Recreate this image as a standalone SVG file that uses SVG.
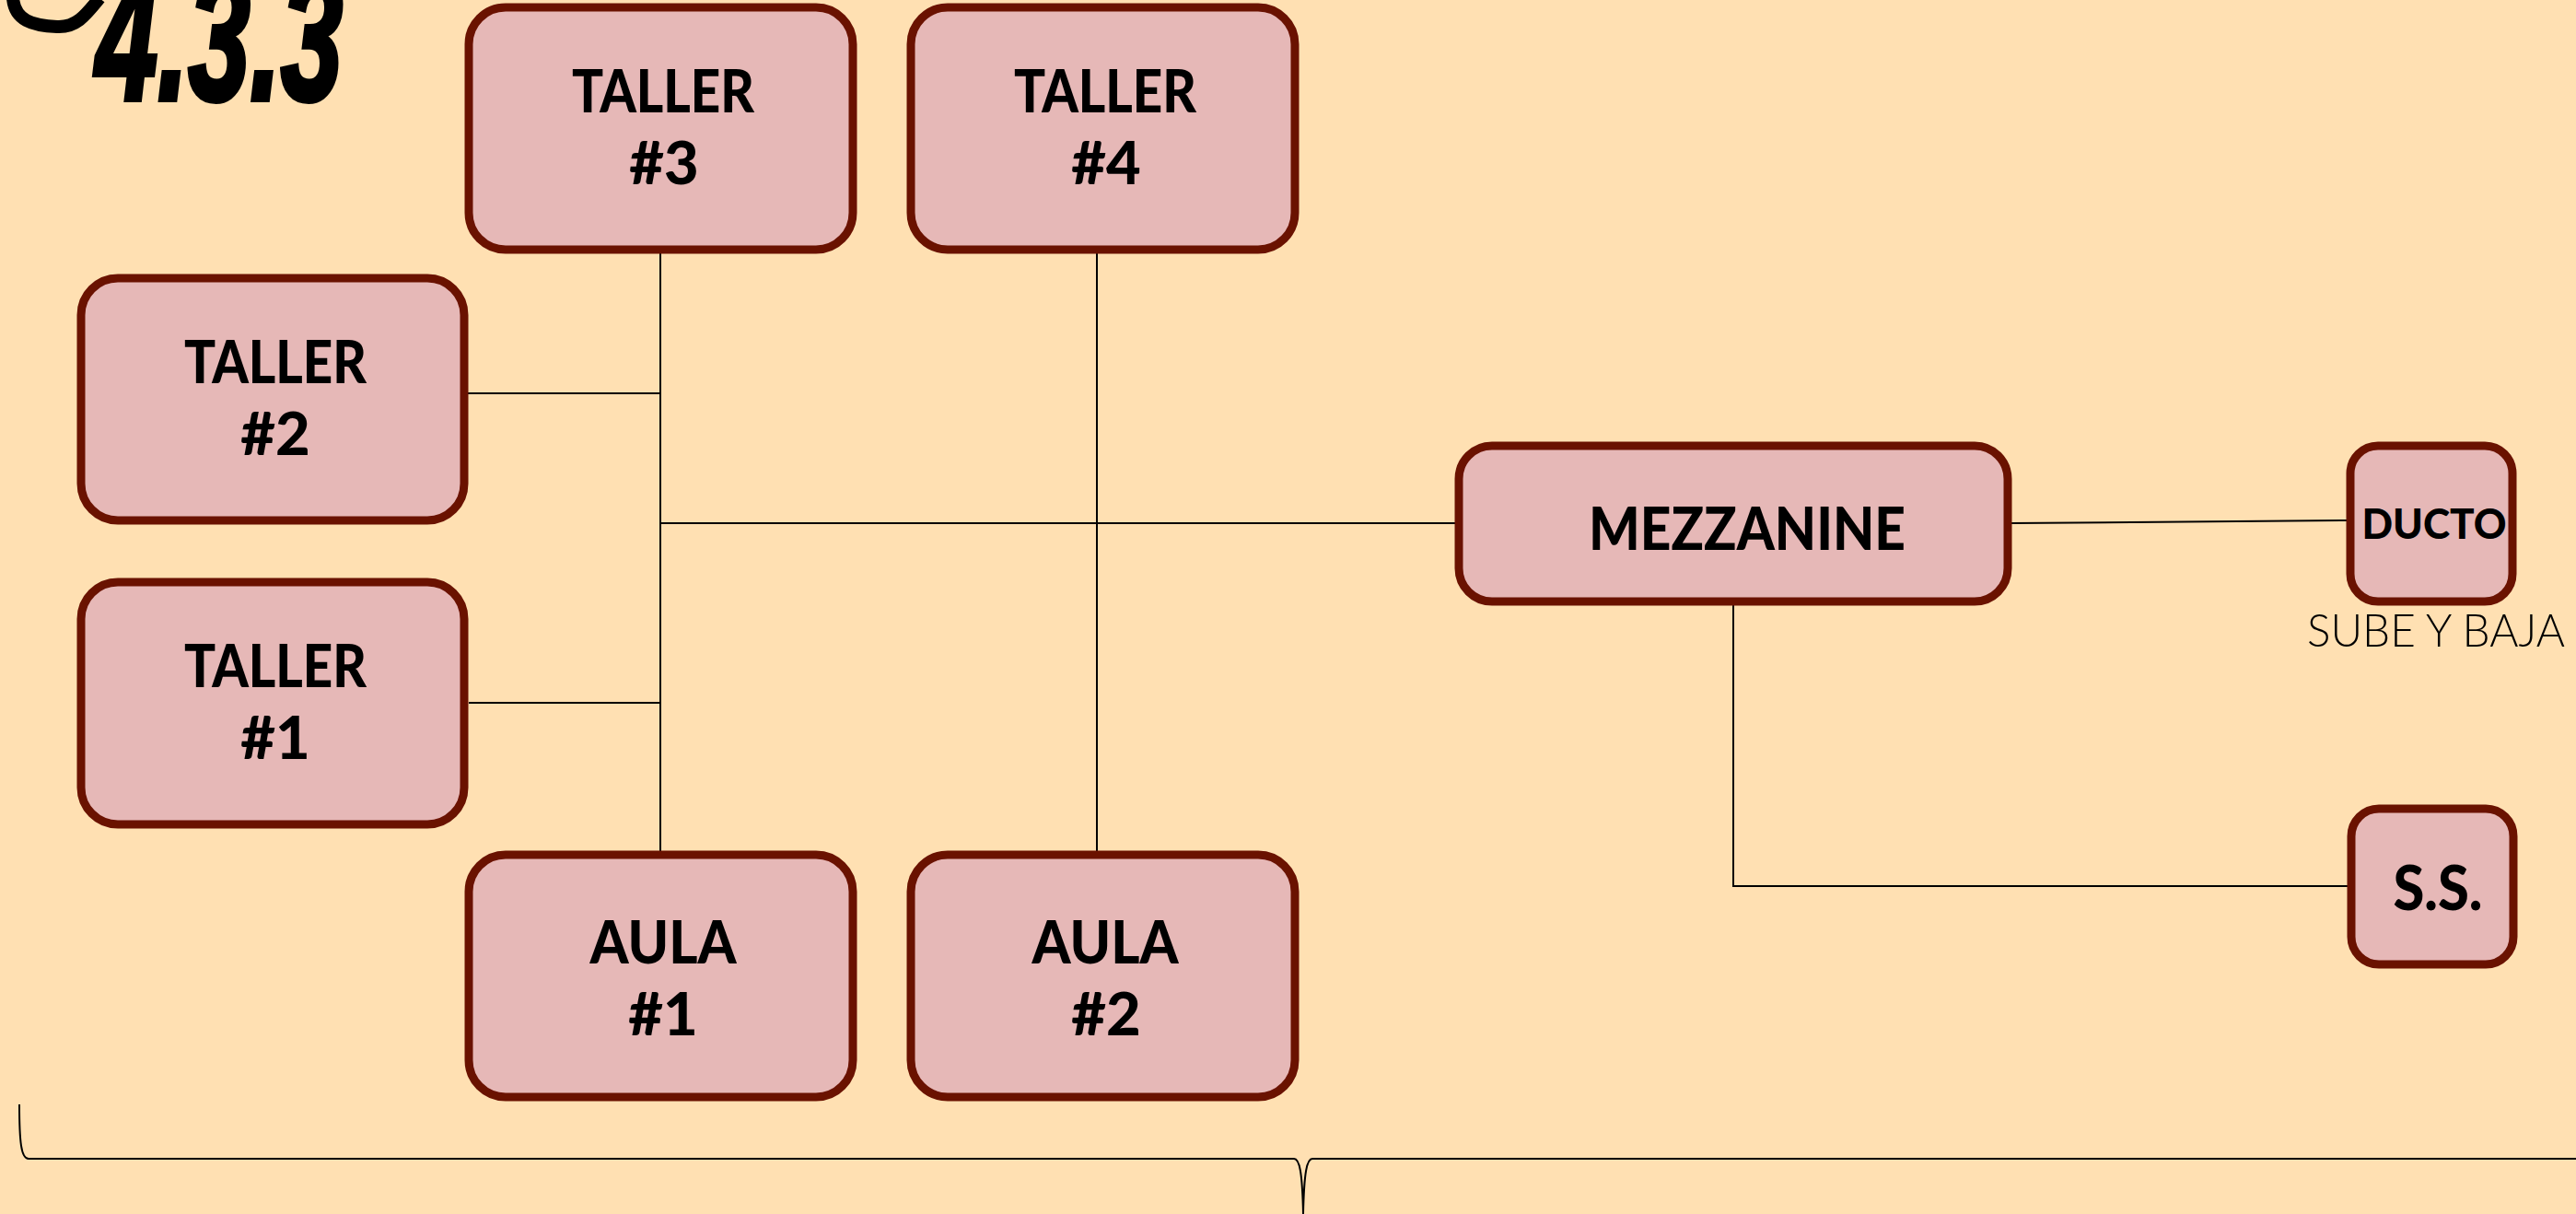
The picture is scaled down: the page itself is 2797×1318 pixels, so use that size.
<svg xmlns="http://www.w3.org/2000/svg" width="2797" height="1318" viewBox="0 0 2797 1318">
<style>
.node rect{fill:#E6B8B7;stroke:#6A1200;stroke-width:9}
.lbl{font-family:Lato,"Liberation Sans",sans-serif;font-weight:900;fill:#000;text-anchor:middle}
.big{font-size:65px}
.con{fill:none;stroke:#000;stroke-width:2}
.note{font-family:Lato,"Liberation Sans",sans-serif;font-weight:300;font-size:49px;fill:#000;text-anchor:middle}
.head{font-family:"Liberation Sans",Arial,sans-serif;font-weight:700;font-style:italic;font-size:195px;fill:#000;stroke:#000;stroke-width:6}
</style>
<rect x="0" y="0" width="2797" height="1318" fill="#FFE0B2"/>
<g id="header">
<path d="M 14 -2 C 16 22, 35 28, 62 29 C 82 30, 92 18, 108 -2" fill="none" stroke="#000" stroke-width="14"/>
<text class="head" x="104" y="108" textLength="268" lengthAdjust="spacingAndGlyphs">4.3.3</text>
</g>
<g id="connectors">
<line class="con" x1="717" y1="275" x2="717" y2="924"/>
<line class="con" x1="1191" y1="275" x2="1191" y2="924"/>
<line class="con" x1="508" y1="427" x2="717" y2="427"/>
<line class="con" x1="509" y1="763" x2="717" y2="763"/>
<line class="con" x1="717" y1="568" x2="1580" y2="568"/>
<line class="con" x1="2184" y1="568" x2="2548" y2="565"/>
<polyline class="con" points="1882,657 1882,962 2549,962"/>
</g>
<g id="taller3" class="node"><rect x="509" y="8" width="417" height="263" rx="40"/>
<text class="lbl big" x="720" y="122" textLength="198" lengthAdjust="spacingAndGlyphs">TALLER</text>
<text class="lbl big" x="721" y="200">#3</text></g>
<g id="taller4" class="node"><rect x="989" y="8" width="417" height="263" rx="40"/>
<text class="lbl big" x="1200" y="122" textLength="198" lengthAdjust="spacingAndGlyphs">TALLER</text>
<text class="lbl big" x="1201" y="200">#4</text></g>
<g id="taller2" class="node"><rect x="88" y="302" width="416" height="263" rx="40"/>
<text class="lbl big" x="299" y="416" textLength="198" lengthAdjust="spacingAndGlyphs">TALLER</text>
<text class="lbl big" x="299" y="494">#2</text></g>
<g id="taller1" class="node"><rect x="88" y="632" width="416" height="263" rx="40"/>
<text class="lbl big" x="299" y="746" textLength="198" lengthAdjust="spacingAndGlyphs">TALLER</text>
<text class="lbl big" x="299" y="824">#1</text></g>
<g id="aula1" class="node"><rect x="509" y="928" width="417" height="263" rx="40"/>
<text class="lbl big" x="720" y="1046" textLength="159" lengthAdjust="spacingAndGlyphs">AULA</text>
<text class="lbl big" x="720" y="1124">#1</text></g>
<g id="aula2" class="node"><rect x="989" y="928" width="417" height="263" rx="40"/>
<text class="lbl big" x="1200" y="1046" textLength="159" lengthAdjust="spacingAndGlyphs">AULA</text>
<text class="lbl big" x="1201" y="1124">#2</text></g>
<g id="mezzanine" class="node"><rect x="1584" y="484" width="596" height="169" rx="36"/>
<text class="lbl" font-size="64" x="1897" y="597" textLength="344" lengthAdjust="spacingAndGlyphs">MEZZANINE</text></g>
<g id="ducto" class="node"><rect x="2552" y="484" width="176" height="169" rx="30"/>
<text class="lbl" font-size="46" x="2643" y="585" textLength="157" lengthAdjust="spacingAndGlyphs">DUCTO</text></g>
<text class="note" x="2645" y="702" textLength="280" lengthAdjust="spacingAndGlyphs">SUBE Y BAJA</text>
<g id="ss" class="node"><rect x="2553" y="878" width="176" height="169" rx="30"/>
<text class="lbl" font-size="66" x="2647" y="988" textLength="97" lengthAdjust="spacingAndGlyphs">S.S.</text></g>
<g id="brace">
<path d="M 21 1199 C 21 1240, 23 1258, 31 1258 L 1405 1258 C 1411 1258, 1414 1272, 1415 1318 C 1416 1272, 1419 1258, 1425 1258 L 2797 1258" fill="none" stroke="#000" stroke-width="2"/>
</g>
</svg>
